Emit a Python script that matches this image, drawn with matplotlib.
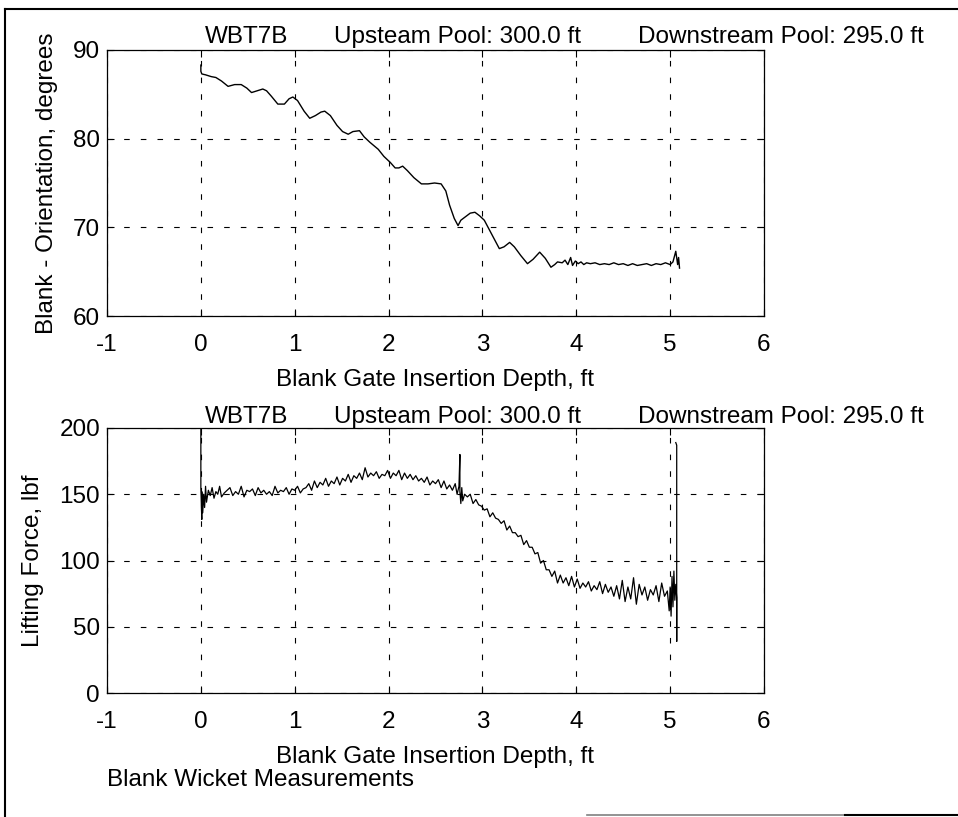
import matplotlib
matplotlib.use("Agg")
import matplotlib.pyplot as plt
from matplotlib.lines import Line2D

plt.rcParams['font.family'] = ['Liberation Sans', 'DejaVu Sans']
plt.rcParams['font.size'] = 17.5
plt.rcParams['axes.unicode_minus'] = False

# header texts
run_name = "WBT7B"
upstream_txt = "Upsteam Pool: 300.0 ft"
downstream_txt = "Downstream Pool: 295.0 ft"

# top panel: blank orientation vs insertion depth
orient_depth = [0.00, 0.00, 0.01, 0.05, 0.11, 0.16, 0.22, 0.29, 0.36, 0.43, 0.49, 0.54,
                0.60, 0.66, 0.70, 0.75, 0.82, 0.89, 0.94, 0.98, 1.03, 1.10, 1.16, 1.22,
                1.28, 1.32, 1.38, 1.45, 1.51, 1.57, 1.62, 1.69, 1.74, 1.80, 1.89, 1.95,
                2.02, 2.07, 2.11, 2.15, 2.20, 2.27, 2.35, 2.42, 2.49, 2.56, 2.61, 2.65,
                2.70, 2.74, 2.77, 2.82, 2.87, 2.92, 2.97, 3.02, 3.08, 3.13, 3.18, 3.23,
                3.29, 3.34, 3.41, 3.48, 3.54, 3.61, 3.67, 3.73, 3.77, 3.80, 3.85, 3.88,
                3.91, 3.94, 3.96, 3.99, 4.02, 4.05, 4.08, 4.11, 4.15, 4.20, 4.25, 4.30,
                4.35, 4.40, 4.45, 4.50, 4.55, 4.60, 4.65, 4.70, 4.75, 4.80, 4.85, 4.90,
                4.95, 5.00, 5.03, 5.06, 5.08, 5.09, 5.10]
orientation = [88.3, 87.6, 87.3, 87.2, 87.0, 86.9, 86.5, 85.9, 86.1, 86.1, 85.7, 85.2,
               85.4, 85.6, 85.4, 84.8, 83.9, 83.9, 84.5, 84.7, 84.3, 83.1, 82.3, 82.6,
               83.0, 83.1, 82.6, 81.5, 80.8, 80.5, 80.8, 80.9, 80.2, 79.6, 78.8, 78.0,
               77.3, 76.7, 76.7, 76.9, 76.4, 75.6, 74.9, 74.9, 75.0, 74.9, 74.1, 72.5,
               71.0, 70.2, 70.8, 71.2, 71.6, 71.7, 71.3, 70.8, 69.6, 68.6, 67.6, 67.8,
               68.3, 67.8, 66.8, 65.9, 66.4, 67.2, 66.5, 65.5, 65.8, 66.1, 66.0, 66.3,
               65.8, 66.6, 65.7, 66.2, 65.9, 66.1, 65.8, 66.0, 65.9, 66.0, 65.8, 65.9,
               65.8, 66.0, 65.8, 65.9, 65.7, 65.9, 65.7, 65.8, 65.9, 65.7, 65.9, 65.8,
               66.0, 65.8, 66.1, 67.3, 65.8, 66.6, 65.4]

# bottom panel: lifting force vs insertion depth
force_depth = [0.00, 0.00, 0.00, 0.01, 0.01, 0.02, 0.03, 0.04, 0.05, 0.06, 0.08, 0.10,
               0.12, 0.14, 0.16, 0.18, 0.20, 0.22, 0.25, 0.28, 0.31, 0.34, 0.37, 0.40,
               0.43, 0.46, 0.49, 0.52, 0.55, 0.58, 0.61, 0.64, 0.67, 0.70, 0.73, 0.76,
               0.79, 0.82, 0.85, 0.88, 0.91, 0.94, 0.97, 1.00, 1.03, 1.06, 1.09, 1.12,
               1.15, 1.18, 1.21, 1.24, 1.27, 1.30, 1.33, 1.36, 1.39, 1.42, 1.45, 1.48,
               1.51, 1.54, 1.57, 1.60, 1.63, 1.66, 1.69, 1.72, 1.75, 1.78, 1.81, 1.84,
               1.87, 1.90, 1.93, 1.96, 1.99, 2.02, 2.05, 2.08, 2.11, 2.14, 2.17, 2.20,
               2.23, 2.26, 2.29, 2.32, 2.35, 2.38, 2.41, 2.44, 2.47, 2.50, 2.53, 2.56,
               2.59, 2.62, 2.65, 2.68, 2.71, 2.73, 2.75, 2.76, 2.76, 2.77, 2.78, 2.79,
               2.81, 2.84, 2.87, 2.90, 2.93, 2.96, 2.99, 3.02, 3.05, 3.08, 3.11, 3.14,
               3.17, 3.20, 3.23, 3.26, 3.29, 3.32, 3.35, 3.38, 3.41, 3.44, 3.47, 3.50,
               3.53, 3.56, 3.59, 3.62, 3.65, 3.68, 3.71, 3.74, 3.77, 3.80, 3.83, 3.86,
               3.89, 3.92, 3.95, 3.98, 4.01, 4.04, 4.07, 4.10, 4.13, 4.16, 4.19, 4.22,
               4.25, 4.28, 4.31, 4.34, 4.37, 4.40, 4.43, 4.46, 4.49, 4.52, 4.55, 4.58,
               4.61, 4.64, 4.67, 4.70, 4.73, 4.76, 4.79, 4.82, 4.85, 4.88, 4.91, 4.94,
               4.97, 4.99, 5.00, 5.01, 5.02, 5.03, 5.04, 5.05, 5.06, 5.07, 5.07, 5.07,
               5.06]
lift_force = [199.5, 174, 155, 131, 152, 136, 150, 140, 156, 144, 153, 149,
              155, 147, 152, 150, 156, 148, 151, 153, 155, 149, 152, 150,
              156, 148, 153, 152, 154, 149, 155, 151, 153, 150, 152, 149,
              156, 151, 153, 152, 155, 150, 154, 153, 156, 151, 154, 155,
              158, 153, 160, 155, 159, 157, 162, 156, 160, 158, 163, 157,
              162, 160, 165, 159, 164, 162, 166, 161, 170, 163, 166, 164,
              167, 162, 165, 164, 168, 162, 166, 164, 168, 161, 166, 162,
              165, 161, 164, 160, 162, 159, 163, 157, 160, 158, 161, 155,
              160, 154, 157, 153, 158, 150, 156, 180, 152, 143, 155, 145,
              150, 148, 150, 143, 146, 142, 141, 138, 139, 133, 136, 132,
              131, 128, 130, 123, 126, 121, 121, 118, 119, 112, 115, 110,
              110, 105, 106, 98, 100, 93, 93, 88, 92, 83, 89, 83,
              87, 81, 88, 80, 86, 79, 83, 80, 84, 77, 81, 78,
              84, 75, 82, 76, 80, 73, 81, 71, 85, 69, 80, 71,
              87, 67, 82, 74, 80, 70, 78, 74, 81, 69, 83, 73,
              77, 62, 80, 58, 88, 65, 92, 70, 82, 72, 39, 187,
              189]

xticks = [-1, 0, 1, 2, 3, 4, 5, 6]
orient_ticks = [60, 70, 80, 90]
force_ticks = [0, 50, 100, 150, 200]

W, H = 958, 817
fig = plt.figure(figsize=(W / 100, H / 100), dpi=100)

grid_style = dict(color='black', linestyle=(0, (5, 10)), linewidth=0.8)


def setup(ax, yticks, ylabel):
    ax.set_xlim(-1, 6)
    ax.set_xticks(xticks)
    ax.set_ylim(yticks[0], yticks[-1])
    ax.set_yticks(yticks)
    ax.grid(True, **grid_style)
    ax.tick_params(direction='in', length=5, width=0.8, top=True, right=True)
    ax.tick_params(axis='x', pad=13)
    ax.tick_params(axis='y', pad=5)
    for s in ax.spines.values():
        s.set_linewidth(0.9)
    ax.set_xlabel("Blank Gate Insertion Depth, ft", labelpad=9)
    ax.set_ylabel(ylabel, labelpad=11)


ax1 = fig.add_axes([107 / W, 1 - 316 / H, (764 - 107) / W, 266 / H])
ax1.plot(orient_depth, orientation, color='black', linewidth=1.0)
setup(ax1, orient_ticks, "Blank - Orientation, degrees")

ax2 = fig.add_axes([107 / W, 1 - 693 / H, (764 - 107) / W, 265 / H])
ax2.plot(force_depth, lift_force, color='black', linewidth=0.9)
setup(ax2, force_ticks, "Lifting Force, lbf")

# header lines above each panel
for base in (43, 423):
    fig.text(205 / W, 1 - base / H, run_name, va='baseline')
    fig.text(334 / W, 1 - base / H, upstream_txt, va='baseline')
    fig.text(638 / W, 1 - base / H, downstream_txt, va='baseline')

fig.text(107 / W, 1 - 786 / H, "Blank Wicket Measurements", va='baseline')

# scanned page border
fig.add_artist(Line2D([5 / W, 5 / W], [0, 1 - 9 / H], color='black', linewidth=1.5,
                      transform=fig.transFigure))
fig.add_artist(Line2D([5 / W, 1], [1 - 9 / H, 1 - 9 / H], color='black', linewidth=1.5,
                      transform=fig.transFigure))
fig.add_artist(Line2D([587 / W, 845 / W], [1 - 815 / H, 1 - 815 / H], color='0.5',
                      linewidth=1.2, transform=fig.transFigure))
fig.add_artist(Line2D([845 / W, 1], [1 - 815 / H, 1 - 815 / H], color='black',
                      linewidth=1.5, transform=fig.transFigure))

fig.savefig("out.png", dpi=100)
